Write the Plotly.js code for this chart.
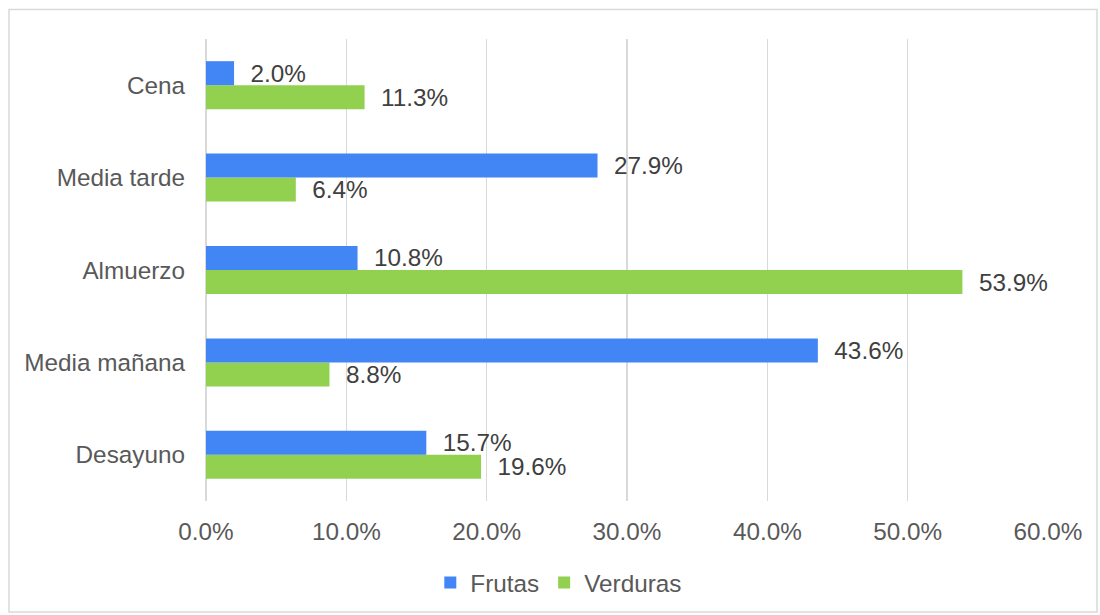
<!DOCTYPE html>
<html>
<head>
<meta charset="utf-8">
<script src="https://cdn.plot.ly/plotly-3.0.1.min.js"></script>
<style>html,body{margin:0;padding:0;background:#fff;}#chart{width:1100px;height:615px;}</style>
</head>
<body>
<div id="chart"></div>
<script>
const categories = ['Desayuno', 'Media mañana', 'Almuerzo', 'Media tarde', 'Cena'];
const frutas = [15.7, 43.6, 10.8, 27.9, 2.0];
const verduras = [19.6, 8.8, 53.9, 6.4, 11.3];
const seriesNames = ['Frutas', 'Verduras'];
const tickValues = [0, 10, 20, 30, 40, 50, 60];
const tickLabels = ['0.0%', '10.0%', '20.0%', '30.0%', '40.0%', '50.0%', '60.0%'];

const FONT = 'Liberation Sans, Arial, sans-serif';
const FS = 24.3;
const labelFont = {family: FONT, size: FS, color: '#404040'};

const traces = [
  {
    type: 'bar', orientation: 'h', name: seriesNames[1],
    y: categories, x: verduras,
    marker: {color: '#92D050'},
    texttemplate: '\u00a0\u00a0%{x:.1f}%', textposition: 'outside',
    constraintext: 'none',
    textfont: labelFont, cliponaxis: false, hoverinfo: 'none'
  },
  {
    type: 'bar', orientation: 'h', name: seriesNames[0],
    y: categories, x: frutas,
    marker: {color: '#4285F4'},
    texttemplate: '\u00a0\u00a0%{x:.1f}%', textposition: 'outside',
    constraintext: 'none',
    textfont: labelFont, cliponaxis: false, hoverinfo: 'none'
  }
];

const layout = {
  width: 1100, height: 615,
  margin: {l: 206, r: 52, t: 39, b: 114, autoexpand: false},
  paper_bgcolor: '#ffffff', plot_bgcolor: '#ffffff',
  barmode: 'group', bargap: 0.48, bargroupgap: 0,
  font: {family: FONT, size: FS, color: '#595959'},
  xaxis: {
    range: [0, 60], tickvals: tickValues, ticktext: tickLabels,
    showgrid: true, gridcolor: '#d9d9d9', gridwidth: 1.5,
    zeroline: true, zerolinecolor: '#d9d9d9', zerolinewidth: 1.5,
    showline: false, ticks: '', ticklabelstandoff: 14,
    tickfont: {family: FONT, size: FS, color: '#595959'},
    automargin: false, fixedrange: true
  },
  yaxis: {
    type: 'category', categoryorder: 'array', categoryarray: categories,
    showgrid: false, zeroline: false, showline: false, ticks: '',
    ticklabelstandoff: 20,
    tickfont: {family: FONT, size: FS, color: '#595959'},
    automargin: false, fixedrange: true
  },
  showlegend: true,
  legend: {
    orientation: 'h', traceorder: 'reversed',
    x: 0.419, xanchor: 'center', y: -0.177, yanchor: 'middle',
    font: {family: FONT, size: FS, color: '#595959'},
    itemwidth: 30, bgcolor: 'rgba(0,0,0,0)'
  },
  shapes: [{
    type: 'rect', xref: 'paper', yref: 'paper',
    x0: (9 - 206) / 842, x1: (1097 - 206) / 842,
    y0: (501 - 612) / 462, y1: (501 - 9.5) / 462,
    line: {color: '#d9d9d9', width: 1.5}, fillcolor: 'rgba(0,0,0,0)', layer: 'below'
  }]
};

Plotly.newPlot('chart', traces, layout, {staticPlot: true, displayModeBar: false});
</script>
</body>
</html>
